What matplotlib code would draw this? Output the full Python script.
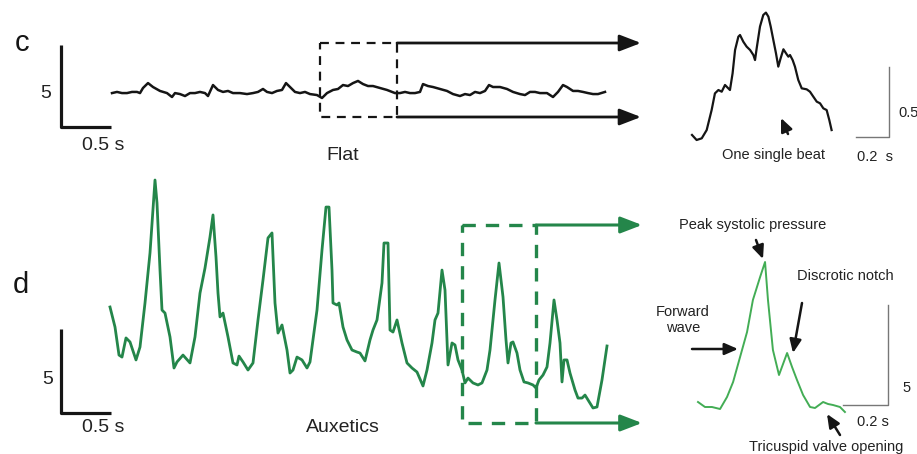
import matplotlib
matplotlib.use("Agg")
import matplotlib.pyplot as plt

plt.rcParams['font.family'] = ['Liberation Sans', 'DejaVu Sans']

# ---------------- data ----------------
# Panel c, main "Flat" recording (time s, pressure units)
c_t = [0.01, 0.06, 0.11, 0.16, 0.21, 0.26, 0.29, 0.32, 0.37, 0.42,
       0.49, 0.56, 0.61, 0.64, 0.69, 0.74, 0.79, 0.84, 0.89, 0.94,
       0.97, 1.02, 1.07, 1.12, 1.17, 1.22, 1.29, 1.36, 1.42, 1.47,
       1.52, 1.56, 1.61, 1.66, 1.71, 1.75, 1.79, 1.84, 1.89, 1.94,
       1.99, 2.06, 2.11, 2.16, 2.22, 2.27, 2.32, 2.37, 2.42, 2.47,
       2.52, 2.57, 2.62, 2.69, 2.76, 2.84, 2.89, 2.94, 2.99, 3.04,
       3.09, 3.12, 3.17, 3.22, 3.29, 3.36, 3.42, 3.49, 3.54, 3.59,
       3.64, 3.69, 3.74, 3.78, 3.82, 3.89, 3.96, 4.02, 4.09, 4.14,
       4.19, 4.24, 4.29, 4.36, 4.42, 4.47, 4.52, 4.56, 4.62, 4.67,
       4.72, 4.77, 4.82, 4.87, 4.94]
c_p = [0.30, 0.37, 0.30, 0.30, 0.37, 0.37, 0.30, 0.61, 0.91, 0.67,
       0.43, 0.30, 0.06, 0.30, 0.24, 0.12, 0.30, 0.30, 0.37, 0.30,
       0.12, 0.79, 0.49, 0.37, 0.43, 0.30, 0.30, 0.24, 0.30, 0.37,
       0.55, 0.37, 0.30, 0.43, 0.49, 0.91, 0.67, 0.37, 0.30, 0.37,
       0.24, 0.18, 0.00, 0.30, 0.49, 0.55, 0.79, 0.73, 0.91, 1.04,
       0.85, 0.73, 0.73, 0.61, 0.49, 0.30, 0.30, 0.37, 0.30, 0.30,
       0.37, 0.85, 0.73, 0.67, 0.55, 0.43, 0.24, 0.12, 0.24, 0.18,
       0.37, 0.30, 0.43, 0.79, 0.67, 0.67, 0.55, 0.37, 0.24, 0.18,
       0.37, 0.37, 0.30, 0.30, 0.06, 0.37, 0.79, 0.67, 0.43, 0.43,
       0.37, 0.30, 0.24, 0.24, 0.37]

# Panel c, single beat inset
ci_t = [0.000, 0.028, 0.059, 0.089, 0.119, 0.139, 0.160, 0.180, 0.200, 0.230,
        0.246, 0.261, 0.281, 0.291, 0.311, 0.331, 0.352, 0.372, 0.382, 0.392,
        0.412, 0.432, 0.448, 0.463, 0.477, 0.493, 0.509, 0.523, 0.537, 0.554,
        0.570, 0.584, 0.594, 0.610, 0.624, 0.644, 0.665, 0.695, 0.715, 0.735,
        0.756, 0.776, 0.796, 0.816, 0.832, 0.846]
ci_p = [0.036, 0.000, 0.012, 0.071, 0.214, 0.333, 0.357, 0.345, 0.393, 0.357,
        0.476, 0.643, 0.738, 0.750, 0.702, 0.667, 0.643, 0.607, 0.571, 0.655,
        0.810, 0.893, 0.910, 0.881, 0.810, 0.714, 0.619, 0.524, 0.583, 0.648,
        0.619, 0.595, 0.607, 0.571, 0.524, 0.429, 0.369, 0.362, 0.345, 0.310,
        0.274, 0.262, 0.226, 0.214, 0.143, 0.071]

# Panel d, main "Auxetics" recording
d_t = [0.00, 0.05, 0.09, 0.12, 0.16, 0.20, 0.26, 0.30, 0.35, 0.40,
       0.45, 0.47, 0.50, 0.52, 0.55, 0.60, 0.64, 0.67, 0.73, 0.80,
       0.85, 0.90, 0.95, 1.00, 1.03, 1.06, 1.08, 1.10, 1.13, 1.18,
       1.23, 1.27, 1.29, 1.33, 1.38, 1.43, 1.48, 1.53, 1.58, 1.62,
       1.65, 1.68, 1.72, 1.77, 1.80, 1.83, 1.87, 1.92, 1.97, 2.00,
       2.07, 2.12, 2.16, 2.19, 2.22, 2.23, 2.27, 2.29, 2.33, 2.37,
       2.42, 2.47, 2.50, 2.55, 2.60, 2.63, 2.67, 2.72, 2.74, 2.78,
       2.80, 2.83, 2.87, 2.92, 2.97, 3.02, 3.07, 3.13, 3.17, 3.22,
       3.25, 3.28, 3.32, 3.35, 3.38, 3.42, 3.45, 3.48, 3.52, 3.55,
       3.58, 3.63, 3.68, 3.72, 3.77, 3.80, 3.85, 3.89, 3.93, 3.96,
       3.98, 4.01, 4.03, 4.07, 4.10, 4.14, 4.18, 4.23, 4.26, 4.29,
       4.33, 4.37, 4.40, 4.44, 4.47, 4.50, 4.52, 4.54, 4.57, 4.60,
       4.65, 4.68, 4.72, 4.75, 4.78, 4.83, 4.87, 4.92, 4.97]
d_p = [6.13, 4.94, 3.27, 3.15, 4.29, 4.05, 2.98, 3.75, 6.37, 9.35,
       13.69, 12.32, 8.33, 5.95, 5.77, 4.35, 2.50, 2.86, 3.27, 2.80,
       4.35, 6.96, 8.45, 10.30, 11.61, 9.11, 6.96, 5.54, 5.77, 4.35,
       2.80, 2.68, 3.21, 2.86, 2.38, 2.80, 5.36, 7.74, 10.24, 10.54,
       6.37, 4.58, 5.06, 3.57, 2.20, 2.38, 3.15, 2.98, 2.50, 2.86,
       5.95, 9.52, 12.08, 12.08, 8.33, 6.37, 6.25, 6.37, 4.94, 4.17,
       3.57, 3.45, 3.39, 2.92, 4.17, 4.76, 5.36, 7.56, 9.94, 9.94,
       4.76, 4.64, 5.36, 3.99, 2.80, 2.50, 2.26, 1.43, 2.38, 3.99,
       5.36, 5.77, 8.33, 7.14, 2.68, 3.99, 3.87, 2.98, 2.38, 1.61,
       1.90, 1.61, 1.49, 1.61, 2.38, 3.57, 6.55, 8.75, 6.73, 4.17,
       2.80, 3.99, 4.05, 3.39, 2.38, 1.67, 1.61, 1.49, 1.31, 1.79,
       2.08, 2.56, 3.99, 6.55, 5.36, 3.99, 1.67, 2.98, 2.98, 2.20,
       1.19, 0.71, 0.71, 0.89, 0.60, 0.12, 0.18, 1.79, 3.81]

# Panel d, single beat inset
di_t = [0.000, 0.031, 0.062, 0.098, 0.129, 0.156, 0.187, 0.218, 0.244, 0.276,
        0.298, 0.311, 0.333, 0.360, 0.396, 0.418, 0.440, 0.467, 0.498, 0.520,
        0.556, 0.578, 0.600, 0.631, 0.653]
di_p = [0.50, 0.25, 0.25, 0.15, 0.75, 1.50, 2.75, 4.00, 5.60, 6.75,
        7.50, 5.60, 3.10, 1.85, 2.95, 2.25, 1.60, 0.85, 0.25, 0.20,
        0.50, 0.40, 0.35, 0.25, 0.00]

# scale bar sizes (s, units)
c_bar = (0.5, 5)
ci_bar = (0.2, 0.5)
d_bar = (0.5, 5)
di_bar = (0.2, 5)

# ---------------- figure ----------------
W, H = 917, 454
fig = plt.figure(figsize=(W / 100, H / 100), dpi=100)
fig.patch.set_facecolor('white')

ov = fig.add_axes([0, 0, 1, 1])
ov.set_xlim(0, W)
ov.set_ylim(H, 0)
ov.axis('off')


def trace_axes(x0, y0, px_s, px_u):
    ax = fig.add_axes([0, 0, 1, 1])
    ax.set_xlim(-x0 / px_s, (W - x0) / px_s)
    ax.set_ylim((y0 - H) / px_u, y0 / px_u)
    ax.axis('off')
    return ax


BLACK = '#151515'
GREEN = '#24864a'
LGREEN = '#43ad55'
TXT = '#222222'

# ---- panel c main
axc = trace_axes(111, 98, 100, 16.4)
axc.plot(c_t, c_p, color=BLACK, lw=1.8, solid_joinstyle='round')
sx, sy = -0.5, -1.77
axc.plot([sx, sx, sx + c_bar[0]], [sy + c_bar[1], sy, sy], color=BLACK, lw=2.3,
         solid_capstyle='butt', clip_on=False)

# ---- panel c inset
axci = trace_axes(692, 140, 165, 140)
axci.plot(ci_t, ci_p, color=BLACK, lw=1.6, solid_joinstyle='round')
sx, sy = 1.194, 0.021
axci.plot([sx - ci_bar[0], sx, sx], [sy, sy, sy + ci_bar[1]], color='#777777', lw=1.0)

# ---- panel d main
axd = trace_axes(110, 410, 100, 16.8)
axd.plot(d_t, d_p, color=GREEN, lw=2.0, solid_joinstyle='round')
sx, sy = -0.49, -0.18
axd.plot([sx, sx, sx + d_bar[0]], [sy + d_bar[1], sy, sy], color=BLACK, lw=2.3,
         solid_capstyle='butt', clip_on=False)

# ---- panel d inset
axdi = trace_axes(698, 412, 225, 20)
axdi.plot(di_t, di_p, color=LGREEN, lw=1.4)
sx, sy = 0.844, 0.35
axdi.plot([sx - di_bar[0], sx, sx], [sy, sy, sy + di_bar[1]], color='#777777', lw=1.0)

# ---- boxes and arrows (overlay, pixel coords)
ov.plot([320, 397, 397, 320, 320], [43, 43, 117, 117, 43], color=BLACK, lw=1.6,
        ls=(0, (4, 3)))
for yy in (43, 117):
    ov.annotate('', xy=(641, yy), xytext=(397, yy),
                arrowprops=dict(arrowstyle='-|>,head_length=1.3,head_width=0.5',
                                color=BLACK, lw=2.0, shrinkA=0, shrinkB=0))

ov.plot([462, 536, 536, 462, 462], [225, 225, 423, 423, 225], color=GREEN, lw=2.4,
        ls=(0, (4, 3)))
for yy in (225, 423):
    ov.annotate('', xy=(642, yy), xytext=(536, yy),
                arrowprops=dict(arrowstyle='-|>,head_length=1.3,head_width=0.5',
                                color=GREEN, lw=2.2, shrinkA=0, shrinkB=0))

small_arrow = dict(arrowstyle='-|>,head_length=0.8,head_width=0.35', color=BLACK,
                   lw=1.8, shrinkA=0, shrinkB=0)
ov.annotate('', xy=(781, 118), xytext=(788, 134), arrowprops=small_arrow)
ov.annotate('', xy=(763, 259), xytext=(756, 240), arrowprops=small_arrow)
ov.annotate('', xy=(793, 353), xytext=(802, 303), arrowprops=small_arrow)
ov.annotate('', xy=(738, 349), xytext=(692, 349), arrowprops=small_arrow)
ov.annotate('', xy=(827, 414), xytext=(840, 435), arrowprops=small_arrow)

# ---- text
ov.text(22, 43, 'c', fontsize=21, color=BLACK, ha='center', va='center')
ov.text(21, 285, 'd', fontsize=21, color=BLACK, ha='center', va='center')
ov.text(46, 93, '5', fontsize=14, color=TXT, ha='center', va='center')
ov.text(48, 380, '5', fontsize=14, color=TXT, ha='center', va='center')
ov.text(103, 145, '0.5 s', fontsize=14, color=TXT, ha='center', va='center')
ov.text(103, 428, '0.5 s', fontsize=14, color=TXT, ha='center', va='center')
ov.text(343, 155, 'Flat', fontsize=14, color=TXT, ha='center', va='center')
ov.text(343, 427, 'Auxetics', fontsize=14, color=TXT, ha='center', va='center')

ov.text(773, 155, 'One single beat', fontsize=10.5, color=TXT, ha='center', va='center')
ov.text(875, 157, '0.2  s', fontsize=10.5, color=TXT, ha='center', va='center')
ov.text(898, 113, '0.5', fontsize=10.5, color=TXT, ha='left', va='center')
ov.text(753, 225, 'Peak systolic pressure', fontsize=10.5, color=TXT, ha='center', va='center')
ov.text(845, 276, 'Discrotic notch', fontsize=10.5, color=TXT, ha='center', va='center')
ov.text(683, 320, 'Forward\nwave', fontsize=10.5, color=TXT, ha='center', va='center',
        multialignment='center', linespacing=1.1)
ov.text(907, 388, '5', fontsize=10.5, color=TXT, ha='center', va='center')
ov.text(873, 422, '0.2 s', fontsize=10.5, color=TXT, ha='center', va='center')
ov.text(826, 447, 'Tricuspid valve opening', fontsize=10.5, color=TXT, ha='center', va='center')

fig.savefig('out.png', dpi=100, facecolor='white')
